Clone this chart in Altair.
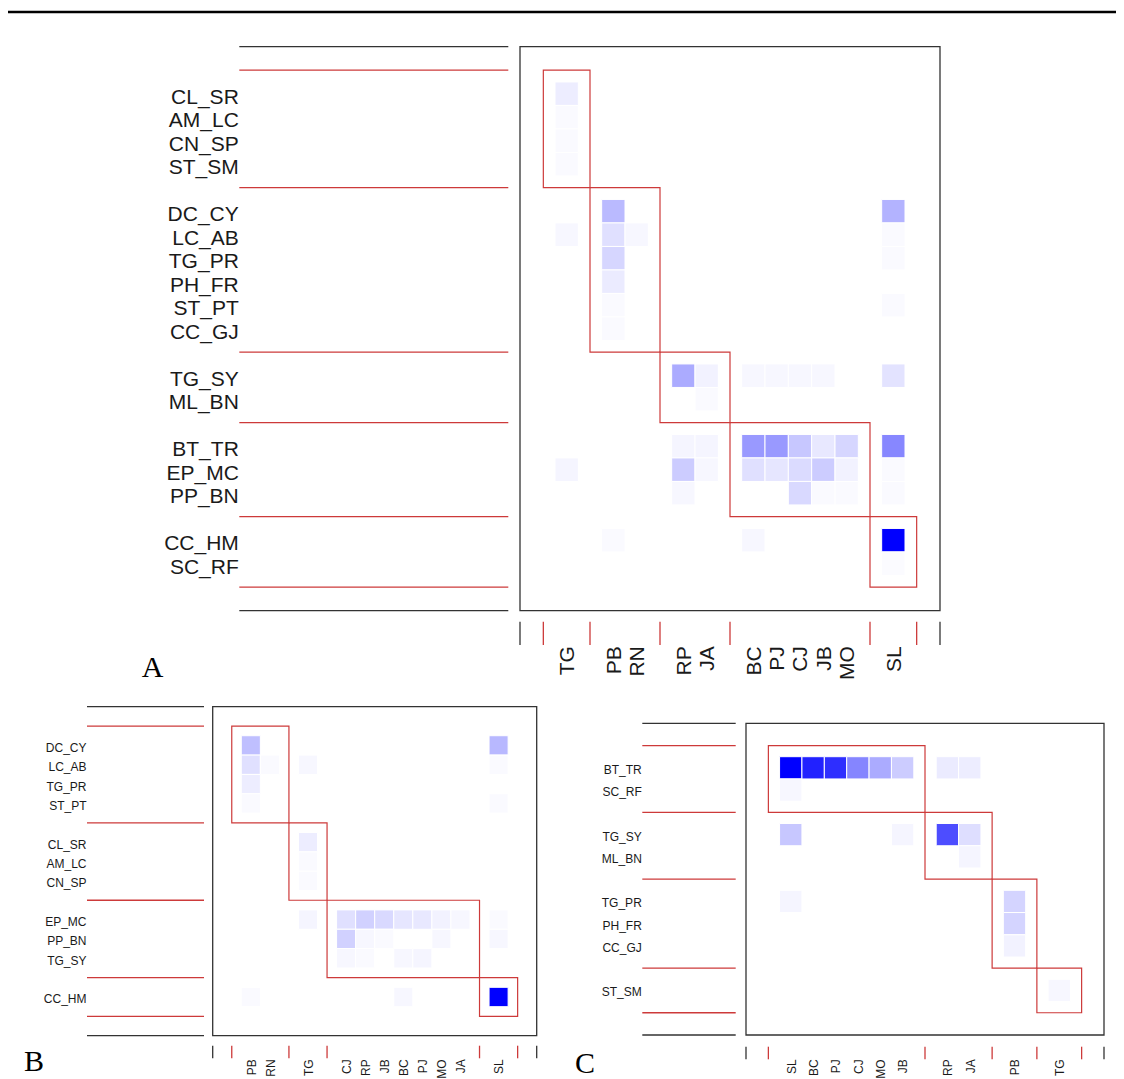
import altair as alt
import pandas as pd

# ---------------- data ----------------
# Panel A
A_row_groups = [
    ["CL_SR", "AM_LC", "CN_SP", "ST_SM"],
    ["DC_CY", "LC_AB", "TG_PR", "PH_FR", "ST_PT", "CC_GJ"],
    ["TG_SY", "ML_BN"],
    ["BT_TR", "EP_MC", "PP_BN"],
    ["CC_HM", "SC_RF"],
]
A_col_groups = [["TG"], ["PB", "RN"], ["RP", "JA"], ["BC", "PJ", "CJ", "JB", "MO"], ["SL"]]
# columns: TG PB RN RP JA BC PJ CJ JB MO SL
A_values = [
    [0.07, 0, 0, 0, 0, 0, 0, 0, 0, 0, 0],                          # CL_SR
    [0.02, 0, 0, 0, 0, 0, 0, 0, 0, 0, 0],                          # AM_LC
    [0.02, 0, 0, 0, 0, 0, 0, 0, 0, 0, 0],                          # CN_SP
    [0.02, 0, 0, 0, 0, 0, 0, 0, 0, 0, 0],                          # ST_SM
    [0, 0.27, 0, 0, 0, 0, 0, 0, 0, 0, 0.30],                       # DC_CY
    [0.03, 0.12, 0.03, 0, 0, 0, 0, 0, 0, 0, 0.02],                 # LC_AB
    [0, 0.16, 0, 0, 0, 0, 0, 0, 0, 0, 0.02],                       # TG_PR
    [0, 0.08, 0, 0, 0, 0, 0, 0, 0, 0, 0],                          # PH_FR
    [0, 0.02, 0, 0, 0, 0, 0, 0, 0, 0, 0.02],                       # ST_PT
    [0, 0.02, 0, 0, 0, 0, 0, 0, 0, 0, 0],                          # CC_GJ
    [0, 0, 0, 0.33, 0.05, 0.03, 0.03, 0.03, 0.03, 0, 0.11],        # TG_SY
    [0, 0, 0, 0, 0.02, 0, 0, 0, 0, 0, 0],                          # ML_BN
    [0, 0, 0, 0.04, 0.04, 0.40, 0.40, 0.22, 0.09, 0.16, 0.47],     # BT_TR
    [0.04, 0, 0, 0.20, 0.03, 0.12, 0.10, 0.14, 0.20, 0.05, 0.02],  # EP_MC
    [0, 0, 0, 0.03, 0, 0, 0, 0.15, 0.02, 0.02, 0.02],              # PP_BN
    [0, 0.02, 0, 0, 0, 0.03, 0, 0, 0, 0, 1.00],                    # CC_HM
    [0, 0, 0, 0, 0, 0, 0, 0, 0, 0, 0.015],                         # SC_RF
]

# Panel B
B_row_groups = [
    ["DC_CY", "LC_AB", "TG_PR", "ST_PT"],
    ["CL_SR", "AM_LC", "CN_SP"],
    ["EP_MC", "PP_BN", "TG_SY"],
    ["CC_HM"],
]
B_col_groups = [["PB", "RN"], ["TG"], ["CJ", "RP", "JB", "BC", "PJ", "MO", "JA"], ["SL"]]
# columns: PB RN TG CJ RP JB BC PJ MO JA SL
B_values = [
    [0.25, 0, 0, 0, 0, 0, 0, 0, 0, 0, 0.28],                       # DC_CY
    [0.12, 0.02, 0.03, 0, 0, 0, 0, 0, 0, 0, 0.02],                 # LC_AB
    [0.07, 0, 0, 0, 0, 0, 0, 0, 0, 0, 0],                          # TG_PR
    [0.02, 0, 0, 0, 0, 0, 0, 0, 0, 0, 0.02],                       # ST_PT
    [0, 0, 0.07, 0, 0, 0, 0, 0, 0, 0, 0],                          # CL_SR
    [0, 0, 0.02, 0, 0, 0, 0, 0, 0, 0, 0],                          # AM_LC
    [0, 0, 0.02, 0, 0, 0, 0, 0, 0, 0, 0],                          # CN_SP
    [0, 0, 0.04, 0.12, 0.18, 0.15, 0.10, 0.09, 0.05, 0.03, 0.02],  # EP_MC
    [0, 0, 0, 0.18, 0.03, 0.02, 0, 0, 0.03, 0, 0.03],              # PP_BN
    [0, 0, 0, 0.03, 0.02, 0, 0.03, 0.04, 0, 0, 0],                 # TG_SY
    [0.02, 0, 0, 0, 0, 0, 0.03, 0, 0, 0, 1.00],                    # CC_HM
]

# Panel C
C_row_groups = [
    ["BT_TR", "SC_RF"],
    ["TG_SY", "ML_BN"],
    ["TG_PR", "PH_FR", "CC_GJ"],
    ["ST_SM"],
]
C_col_groups = [["SL", "BC", "PJ", "CJ", "MO", "JB"], ["RP", "JA"], ["PB"], ["TG"]]
# columns: SL BC PJ CJ MO JB RP JA PB TG
C_values = [
    [1.00, 0.87, 0.82, 0.48, 0.33, 0.20, 0.08, 0.07, 0, 0],        # BT_TR
    [0.03, 0, 0, 0, 0, 0, 0, 0, 0, 0],                             # SC_RF
    [0.22, 0, 0, 0, 0, 0.04, 0.70, 0.13, 0, 0],                    # TG_SY
    [0, 0, 0, 0, 0, 0, 0, 0.04, 0, 0],                             # ML_BN
    [0.04, 0, 0, 0, 0, 0, 0, 0, 0.17, 0],                          # TG_PR
    [0, 0, 0, 0, 0, 0, 0, 0, 0.17, 0],                             # PH_FR
    [0, 0, 0, 0, 0, 0, 0, 0, 0.05, 0],                             # CC_GJ
    [0, 0, 0, 0, 0, 0, 0, 0, 0, 0.03],                             # ST_SM
]

# ---------------- layout / style ----------------
W, H = 1108, 1071
RED = "#cd3a3a"
DARK = "#333333"
SANS = "Liberation Sans"
SERIF = "Liberation Serif"

GEO = {
    "A": dict(left=512, top=38.7, w=420, h=564, fs=21, line_gap=11.7, line_len=269,
              label_dy=4, tick_gap=11, tick_len=23.3, col_off=35.5,
              letter_x=-378.3, letter_y=630.5),
    "B": dict(left=204.7, top=698.7, w=324, h=329, fs=12, line_gap=8.7, line_len=117,
              label_dy=2.5, tick_gap=10, tick_len=12.6, col_off=23.6,
              letter_x=-188.7, letter_y=364.5),
    "C": dict(left=738, top=715.3, w=358, h=311.7, fs=12, line_gap=10.3, line_len=93.4,
              label_dy=2, tick_gap=11.7, tick_len=12.6, col_off=24.3,
              letter_x=-171, letter_y=349.5),
}

cscale = alt.Scale(domain=[0, 1], range=["#ffffff", "#0000ff"], interpolate="rgb")


def positions(groups):
    pos, seps, items = 1, [1], []
    for g in groups:
        for name in g:
            pos += 1
            items.append((name, pos))
        pos += 1
        seps.append(pos)
    return items, seps, pos + 1


def panel(letter, row_groups, col_groups, values, g):
    r_items, r_seps, nr = positions(row_groups)
    c_items, c_seps, nc = positions(col_groups)
    xs = alt.Scale(domain=[0, nc], range=[g["left"], g["left"] + g["w"]], nice=False, zero=False)
    ys = alt.Scale(domain=[0, nr], range=[g["top"], g["top"] + g["h"]], nice=False, zero=False)

    def X(f):
        return alt.X(f, type="quantitative", scale=xs, axis=None)

    def Y(f):
        return alt.Y(f, type="quantitative", scale=ys, axis=None)

    cells = pd.DataFrame([
        {"r": rp, "c": cp, "v": values[i][j]}
        for i, (rn, rp) in enumerate(r_items)
        for j, (cn, cp) in enumerate(c_items)
        if values[i][j] > 0
    ])
    frame_df = pd.DataFrame([{"x0": 0, "x1": nc, "y0": 0, "y1": nr}])
    boxes_df = pd.DataFrame([
        {"x0": c_seps[k], "x1": c_seps[k + 1], "y0": r_seps[k], "y1": r_seps[k + 1]}
        for k in range(len(row_groups))
    ])
    hl_edge = pd.DataFrame({"y": [0, nr]})
    hl_sep = pd.DataFrame({"y": r_seps})
    vt_edge = pd.DataFrame({"x": [0, nc]})
    vt_sep = pd.DataFrame({"x": c_seps})
    rlab = pd.DataFrame([{"name": n, "pos": p} for n, p in r_items])
    clab = pd.DataFrame([{"name": n, "pos": p} for n, p in c_items])
    let_df = pd.DataFrame({"t": [letter]})

    lx1 = g["left"] - g["line_gap"]
    lx0 = lx1 - g["line_len"]
    ty0 = g["top"] + g["h"] + g["tick_gap"]
    ty1 = ty0 + g["tick_len"]

    frame = alt.Chart(frame_df).mark_rect(fillOpacity=0, stroke=DARK, strokeWidth=1.3).encode(
        x=X("x0"), x2="x1", y=Y("y0"), y2="y1")
    heat = alt.Chart(cells).transform_calculate(
        xa="datum.c - 0.5", xb="datum.c + 0.5", ya="datum.r - 0.5", yb="datum.r + 0.5"
    ).mark_rect(stroke="white", strokeWidth=1).encode(
        x=X("xa"), x2="xb", y=Y("ya"), y2="yb",
        color=alt.Color("v:Q", scale=cscale, legend=None))
    boxes = alt.Chart(boxes_df).mark_rect(fillOpacity=0, stroke=RED, strokeWidth=1.2).encode(
        x=X("x0"), x2="x1", y=Y("y0"), y2="y1")
    hle = alt.Chart(hl_edge).mark_rule(color=DARK, strokeWidth=1.3).encode(
        y=Y("y"), x=alt.value(lx0), x2=alt.value(lx1))
    hls = alt.Chart(hl_sep).mark_rule(color=RED, strokeWidth=1.3).encode(
        y=Y("y"), x=alt.value(lx0), x2=alt.value(lx1))
    vte = alt.Chart(vt_edge).mark_rule(color=DARK, strokeWidth=1.3).encode(
        x=X("x"), y=alt.value(ty0), y2=alt.value(ty1))
    vts = alt.Chart(vt_sep).mark_rule(color=RED, strokeWidth=1.3).encode(
        x=X("x"), y=alt.value(ty0), y2=alt.value(ty1))
    rows = alt.Chart(rlab).mark_text(
        align="right", baseline="middle", font=SANS, fontSize=g["fs"], dy=g["label_dy"],
        color="#1a1a1a").encode(x=alt.value(lx0 - 0.5), y=Y("pos"), text="name:N")
    cols = alt.Chart(clab).mark_text(
        align="right", baseline="middle", angle=270, font=SANS, fontSize=g["fs"],
        dy=0.07 * g["fs"], color="#1a1a1a").encode(
        x=X("pos"), y=alt.value(g["top"] + g["h"] + g["col_off"]), text="name:N")
    let = alt.Chart(let_df).mark_text(
        align="left", baseline="alphabetic", font=SERIF, fontSize=30, color="black").encode(
        x=alt.value(g["left"] + g["letter_x"]), y=alt.value(g["top"] + g["letter_y"]), text="t:N")
    return alt.layer(frame, heat, boxes, hle, hls, vte, vts, rows, cols, let)


pA = panel("A", A_row_groups, A_col_groups, A_values, GEO["A"])
pB = panel("B", B_row_groups, B_col_groups, B_values, GEO["B"])
pC = panel("C", C_row_groups, C_col_groups, C_values, GEO["C"])

top_line = alt.Chart(pd.DataFrame({"k": [0]})).mark_rule(color="black", strokeWidth=2.3).encode(
    x=alt.value(0), x2=alt.value(W), y=alt.value(4))

chart = alt.layer(top_line, pA, pB, pC).resolve_scale(
    x="independent", y="independent"
).properties(
    width=W, height=H, autosize=alt.AutoSizeParams(type="none"), padding=0
).configure_view(strokeWidth=0)

chart.save("out.html", embed_options={"renderer": "svg", "actions": False})
